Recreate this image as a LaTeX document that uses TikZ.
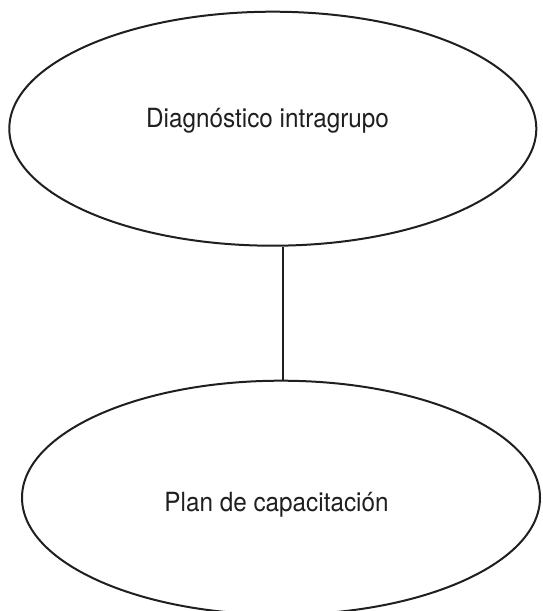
\documentclass[tikz,border=0pt]{standalone}
\usepackage{fontspec}
\setmainfont[FakeStretch=0.92]{TeX Gyre Heros}
\usetikzlibrary{shapes.geometric}
\begin{document}
\begin{tikzpicture}[x=1pt,y=-1pt,
  bubble/.style={draw=black!88, line width=2pt, ellipse, inner sep=0pt},
  lbl/.style={anchor=base, inner sep=0pt, text=black!88, font=\fontsize{26.4}{30}\selectfont},
  link/.style={draw=black!88, line width=2pt}]
\useasboundingbox (0,0) rectangle (543,611);
\clip (0,0) rectangle (543,611);
\node[bubble, minimum width=527pt, minimum height=234pt] (top) at (272.8,128.7) {};
\node[bubble, minimum width=518pt, minimum height=234pt] (bot) at (281,497.7) {};
\node[lbl] (toptext) at (267.5,127.3) {Diagnóstico intragrupo};
\node[lbl] (bottext) at (276.5,511.7) {Plan de capacitación};
\coordinate (lx) at (282.7,0);
\draw[link] (top.south -| lx) -- (bot.north -| lx);
\end{tikzpicture}
\end{document}
